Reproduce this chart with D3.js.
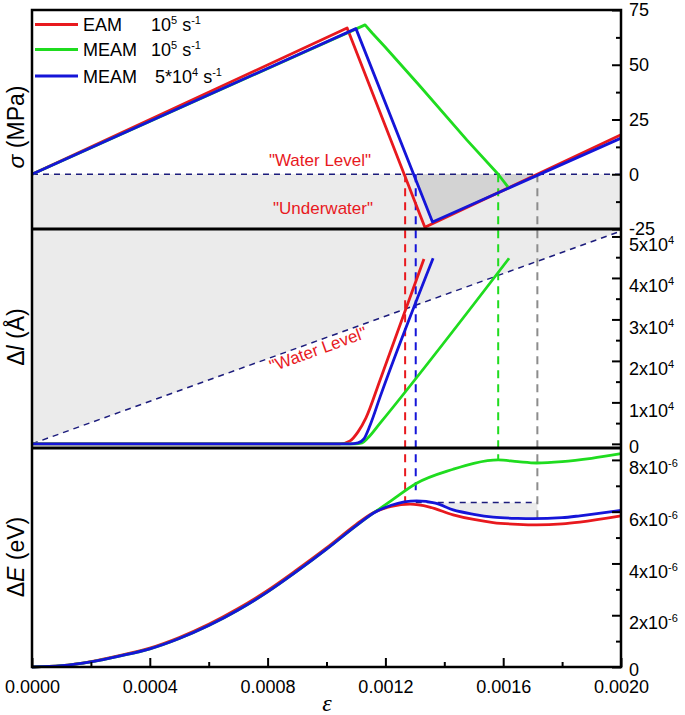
<!DOCTYPE html>
<html><head><meta charset="utf-8">
<script src="https://cdn.jsdelivr.net/npm/d3@7"></script>
<style>
body{margin:0;background:#fff}
svg{display:block;font-family:"Liberation Sans",Arial,sans-serif}
</style>
</head><body><svg id="c" width="685" height="715"></svg>
<script>
// ---------------- data ----------------
const strainTicks = [0, 0.0004, 0.0008, 0.0012, 0.0016, 0.0020];
const strainMinor = [0.0002, 0.0006, 0.0010, 0.0014, 0.0018];
const stressTicks = [75, 50, 25, 0, -25];
const stressMinor = [62.5, 37.5, 12.5, -12.5];
const dlTicks = [0, 10000, 20000, 30000, 40000, 50000];
const dlMinor = [5000, 15000, 25000, 35000, 45000];
const dETicks = [0, 2, 4, 6, 8];          // x10^-6
const dEMinor = [1, 3, 5, 7];

const seriesNames = ["EAM", "MEAM", "MEAM"];
const seriesRates = [["10", "5"], ["10", "5"], ["5*10", "4"]];
const seriesColors = ["#e8191e", "#1fdc1f", "#1515d8"];

// stress sigma (MPa) vs strain
const stressEAM   = [[0,0],[0.00107,66.8],[0.001334,-24.2],[0.002,18]];
const stressMEAM  = [[0,0],[0.001131,68.2],[0.001155,64.5],[0.001199,58.1],[0.001317,40.3],[0.001477,15.6],[0.001583,0],[0.001616,-5.8]];
const stressMEAM5 = [[0,0],[0.0011,66.5],[0.00136,-21.8],[0.002,16.5]];

// delta l (Angstrom) vs strain
const dlEAM   = [[0,0],[0.001046,0],[0.00108,720],[0.001107,2890],[0.001134,6270],[0.001182,15420],[0.001331,44580]];
const dlMEAM  = [[0,0],[0.001097,0],[0.001121,240],[0.001141,1450],[0.001182,4990],[0.00162,44750]];
const dlMEAM5 = [[0,0],[0.00108,0],[0.001107,240],[0.001127,1200],[0.001148,4500],[0.001182,11330],[0.001362,44750]];
const dlWaterLevel = [[0,0],[0.002,51300]];

// delta E (x10^-6 eV) vs strain
const dEEAM = [[0,0],[0.0001,0.05],[0.0002,0.21],[0.0003,0.45],[0.0004,0.73],[0.0005,1.14],[0.0006,1.65],[0.0007,2.26],[0.0008,2.96],[0.0009,3.76],[0.001,4.6],[0.0011,5.5],[0.00116,5.97],[0.00122,6.2],[0.001284,6.29],[0.00135,6.18],[0.00143,5.88],[0.0015,5.7],[0.001566,5.58],[0.00165,5.51],[0.001714,5.49],[0.0018,5.53],[0.00186,5.6],[0.002,5.84]];
const dEMEAM = [[0,0],[0.0001,0.05],[0.0002,0.2],[0.0003,0.43],[0.0004,0.7],[0.0005,1.1],[0.0006,1.6],[0.0007,2.2],[0.0008,2.9],[0.0009,3.7],[0.001,4.55],[0.0011,5.45],[0.00116,5.95],[0.00122,6.43],[0.001306,7.1],[0.00143,7.64],[0.0015,7.87],[0.001583,8.0],[0.00165,7.93],[0.001714,7.88],[0.0018,7.93],[0.0019,8.06],[0.002,8.24]];
const dEMEAM5 = [[0,0],[0.0001,0.05],[0.0002,0.2],[0.0003,0.43],[0.0004,0.7],[0.0005,1.1],[0.0006,1.6],[0.0007,2.2],[0.0008,2.9],[0.0009,3.7],[0.001,4.55],[0.0011,5.45],[0.00116,5.95],[0.00122,6.25],[0.001306,6.42],[0.00137,6.33],[0.00143,6.07],[0.0015,5.9],[0.001566,5.79],[0.00165,5.74],[0.0017,5.73],[0.0018,5.77],[0.00186,5.84],[0.002,6.05]];

// marker strains (red, blue, green, grey dashed verticals) and their lower ends (dE x10^-6)
const markStrains = [0.001267, 0.001303, 0.001583, 0.001716];
const markColors = ["#e8191e", "#1515d8", "#1fdc1f", "#8c8c8c"];
const markEnds = [6.2, 6.6, 8.0, 5.7];
const dEWaterLevel = 6.35;

// ---------------- layout ----------------
const svg = d3.select("#c");
const X0 = 32, X1 = 621;
const x = d3.scaleLinear().domain([0, 0.002]).range([X0, X1]);
const yTop = d3.scaleLinear().domain([-25, 75]).range([229, 10]);
const yMid = d3.scaleLinear().domain([-1000, 51800]).range([448, 229]);
const yBot = d3.scaleLinear().domain([0, 8.46]).range([667, 448]);

const navy = "#1c1c7c";
const lightGrey = "#ebebeb", darkGrey = "#d3d3d3";

function zeroCross(p, q) { return p[0] + (0 - p[1]) / (q[1] - p[1]) * (q[0] - p[0]); }

// ---------------- fills ----------------
svg.append("rect").attr("x", X0).attr("width", X1 - X0)
  .attr("y", yTop(0)).attr("height", yTop(-25) - yTop(0)).attr("fill", lightGrey);
const c1 = zeroCross(stressMEAM5[1], stressMEAM5[2]);
const c2 = zeroCross(stressMEAM5[2], stressMEAM5[3]);
svg.append("path").attr("fill", darkGrey)
  .attr("d", d3.line().x(d => x(d[0])).y(d => yTop(d[1]))([[c1,0], stressMEAM5[2], [c2,0]]) + "Z");

const midTop = yMid.domain()[1];
svg.append("path").attr("fill", lightGrey)
  .attr("d", d3.line().x(d => x(d[0])).y(d => yMid(d[1]))([[0,0],[0,midTop],[0.002,midTop],dlWaterLevel[1]]) + "Z");

svg.append("clipPath").attr("id", "clipE").append("rect")
  .attr("x", x(markStrains[1])).attr("width", x(markStrains[3]) - x(markStrains[1]))
  .attr("y", yBot(dEWaterLevel)).attr("height", 667 - yBot(dEWaterLevel));
svg.append("path").attr("fill", lightGrey).attr("clip-path", "url(#clipE)")
  .attr("d", d3.area().curve(d3.curveMonotoneX).x(d => x(d[0])).y0(yBot(dEWaterLevel)).y1(d => yBot(d[1]))(dEMEAM5));

// ---------------- water-level dashed lines ----------------
svg.append("line").attr("x1", X0).attr("x2", X1).attr("y1", yTop(0)).attr("y2", yTop(0))
  .attr("stroke", navy).attr("stroke-width", 1.5).attr("stroke-dasharray", "6,5");
svg.append("path").attr("fill", "none").attr("stroke", navy).attr("stroke-width", 1.5).attr("stroke-dasharray", "6,5")
  .attr("d", d3.line().x(d => x(d[0])).y(d => yMid(d[1]))(dlWaterLevel));
svg.append("line").attr("x1", x(markStrains[1])).attr("x2", x(markStrains[3]))
  .attr("y1", yBot(dEWaterLevel)).attr("y2", yBot(dEWaterLevel))
  .attr("stroke", navy).attr("stroke-width", 1.5).attr("stroke-dasharray", "6,5");

// vertical dashed markers
markStrains.forEach((s, i) => {
  svg.append("line").attr("x1", x(s)).attr("x2", x(s))
    .attr("y1", yTop(0)).attr("y2", yBot(markEnds[i]))
    .attr("stroke", markColors[i]).attr("stroke-width", 2).attr("stroke-dasharray", "8,6");
});

// ---------------- curves ----------------
const lineTop = d3.line().x(d => x(d[0])).y(d => yTop(d[1]));
const lineMid = d3.line().curve(d3.curveMonotoneX).x(d => x(d[0])).y(d => yMid(d[1]));
const lineBot = d3.line().curve(d3.curveMonotoneX).x(d => x(d[0])).y(d => yBot(d[1]));
const topSeries = [stressEAM, stressMEAM, stressMEAM5];
const midSeries = [dlEAM, dlMEAM, dlMEAM5];
const botSeries = [dEEAM, dEMEAM, dEMEAM5];
[0,1,2].forEach(i => {
  svg.append("path").attr("fill","none").attr("stroke",seriesColors[i]).attr("stroke-width",2.8)
    .attr("stroke-linejoin","round").attr("d", lineTop(topSeries[i]));
  svg.append("path").attr("fill","none").attr("stroke",seriesColors[i]).attr("stroke-width",2.8)
    .attr("d", lineMid(midSeries[i]));
  svg.append("path").attr("fill","none").attr("stroke",seriesColors[i]).attr("stroke-width",2.8)
    .attr("d", lineBot(botSeries[i]));
});

// ---------------- frame ----------------
const frame = svg.append("g").attr("stroke", "#000").attr("stroke-width", 2.5).attr("fill", "none");
frame.append("rect").attr("x", X0).attr("y", 10).attr("width", X1 - X0).attr("height", 667 - 10);
frame.append("line").attr("x1", X0).attr("x2", X1).attr("y1", 229).attr("y2", 229).attr("stroke-width", 3);
frame.append("line").attr("x1", X0).attr("x2", X1).attr("y1", 448).attr("y2", 448).attr("stroke-width", 3);

// ---------------- axes ----------------
function styleAxis(g) {
  g.select(".domain").remove();
  g.selectAll(".tick line").attr("stroke", "#000").attr("stroke-width", 2);
  g.attr("font-size", 18).attr("font-family", '"Liberation Sans",Arial,sans-serif');
  g.selectAll(".tick text").attr("fill", "#000");
}
function rightAxis(scale, major, minor, fmt) {
  svg.append("g").attr("transform", `translate(${X1},0)`)
    .call(d3.axisRight(scale).tickValues(minor).tickSizeInner(-5).tickSizeOuter(0).tickFormat(""))
    .call(styleAxis);
  return svg.append("g").attr("transform", `translate(${X1},0)`)
    .call(d3.axisRight(scale).tickValues(major).tickSizeInner(-9).tickSizeOuter(0).tickPadding(8).tickFormat(fmt))
    .call(styleAxis);
}
rightAxis(yTop, stressTicks, stressMinor, d => String(d));

function supLabels(g, exp, stepDiv) {
  g.selectAll(".tick text").each(function(d) {
    const t = d3.select(this);
    if (d === 0) { t.text("0").attr("y", 3); return; }
    t.text(null).attr("y", 8);
    t.append("tspan").text(String(d / stepDiv) + "x10");
    t.append("tspan").attr("dy", -7).attr("font-size", 11).text(exp);
  });
}
const gMid = rightAxis(yMid, dlTicks, dlMinor, d => String(d));
supLabels(gMid, "4", 10000);
const gBot = rightAxis(yBot, dETicks, dEMinor, d => String(d));
supLabels(gBot, "-6", 1);

svg.append("g").attr("transform", "translate(0,667)")
  .call(d3.axisBottom(x).tickValues(strainMinor).tickSizeInner(-5).tickSizeOuter(0).tickFormat(""))
  .call(styleAxis);
svg.append("g").attr("transform", "translate(0,667)")
  .call(d3.axisBottom(x).tickValues(strainTicks).tickSizeInner(-9).tickSizeOuter(0).tickPadding(13).tickFormat(d3.format(".4f")))
  .call(styleAxis);

// ---------------- axis titles ----------------
const t1 = svg.append("text").attr("transform", "translate(24,127) rotate(-90)").attr("text-anchor", "middle").attr("font-size", 23);
t1.append("tspan").attr("font-style", "italic").text("σ");
t1.append("tspan").text(" (MPa)");
const t2 = svg.append("text").attr("transform", "translate(24,337) rotate(-90)").attr("text-anchor", "middle").attr("font-size", 23);
t2.append("tspan").text("Δ");
t2.append("tspan").attr("font-style", "italic").text("l");
t2.append("tspan").text(" (Å)");
const t3 = svg.append("text").attr("transform", "translate(24,557) rotate(-90)").attr("text-anchor", "middle").attr("font-size", 23);
t3.append("tspan").text("Δ");
t3.append("tspan").attr("font-style", "italic").text("E");
t3.append("tspan").text(" (eV)");
svg.append("text").attr("x", 327).attr("y", 711).attr("text-anchor", "middle")
  .attr("font-family", '"Liberation Serif","Times New Roman",serif').attr("font-style", "italic").attr("font-size", 24).text("ε");

// ---------------- annotations ----------------
const red = seriesColors[0];
svg.append("text").attr("x", 320).attr("y", 166).attr("text-anchor", "middle").attr("font-size", 17).attr("fill", red).text('"Water Level"');
svg.append("text").attr("x", 323).attr("y", 214).attr("text-anchor", "middle").attr("font-size", 17).attr("fill", red).text('"Underwater"');
const ang = Math.atan2(yMid(dlWaterLevel[1][1]) - yMid(0), x(0.002) - x(0)) * 180 / Math.PI;
svg.append("text").attr("transform", `translate(272,372) rotate(${ang})`).attr("font-size", 17).attr("fill", red).text('"Water Level"');

// ---------------- legend ----------------
const rowY = [24.5, 49.5, 76];
seriesNames.forEach((n, i) => {
  svg.append("line").attr("x1", 35).attr("x2", 78).attr("y1", rowY[i]).attr("y2", rowY[i])
    .attr("stroke", seriesColors[i]).attr("stroke-width", 3);
  svg.append("text").attr("x", 83).attr("y", rowY[i] + 6.5).attr("font-size", 18).text(n);
  const rt = svg.append("text").attr("x", i === 2 ? 155 : 151).attr("y", rowY[i] + 6.5).attr("font-size", 18);
  rt.append("tspan").text(seriesRates[i][0]);
  rt.append("tspan").attr("dy", -7).attr("font-size", 11).text(seriesRates[i][1]);
  rt.append("tspan").attr("dy", 7).text(" s");
  rt.append("tspan").attr("dy", -7).attr("font-size", 11).text("-1");
});
</script></body></html>
